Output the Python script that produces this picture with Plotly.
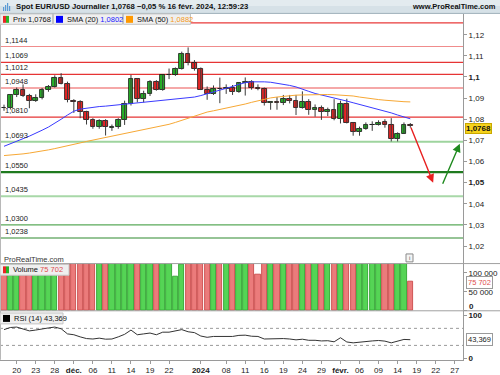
import plotly.graph_objects as go

# ---------------- data ----------------
dates = ["2023-11-16", "2023-11-17", "2023-11-20", "2023-11-21", "2023-11-22", "2023-11-23", "2023-11-24",
         "2023-11-27", "2023-11-28", "2023-11-29", "2023-11-30", "2023-12-01", "2023-12-04", "2023-12-05",
         "2023-12-06", "2023-12-07", "2023-12-08", "2023-12-11", "2023-12-12", "2023-12-13", "2023-12-14",
         "2023-12-15", "2023-12-18", "2023-12-19", "2023-12-20", "2023-12-21", "2023-12-22", "2023-12-26",
         "2023-12-27", "2023-12-28", "2023-12-29", "2024-01-02", "2024-01-03", "2024-01-04", "2024-01-05",
         "2024-01-08", "2024-01-09", "2024-01-10", "2024-01-11", "2024-01-12", "2024-01-15", "2024-01-16",
         "2024-01-17", "2024-01-18", "2024-01-19", "2024-01-22", "2024-01-23", "2024-01-24", "2024-01-25",
         "2024-01-26", "2024-01-29", "2024-01-30", "2024-01-31", "2024-02-01", "2024-02-02", "2024-02-05",
         "2024-02-06", "2024-02-07", "2024-02-08", "2024-02-09", "2024-02-12", "2024-02-13", "2024-02-14",
         "2024-02-15", "2024-02-16"]

opens = [1.0855, 1.0852, 1.0913, 1.0940, 1.0910, 1.0887, 1.0903, 1.0940, 1.0955, 1.0998, 1.0969, 1.0888,
         1.0883, 1.0835, 1.0795, 1.0763, 1.0792, 1.0760, 1.0764, 1.0795, 1.0875, 1.0990, 1.0895, 1.0922,
         1.0978, 1.0940, 1.1008, 1.1012, 1.1040, 1.1109, 1.1067, 1.1036, 1.0940, 1.0922, 1.0945, 1.0942,
         1.0950, 1.0930, 1.0972, 1.0975, 1.0950, 1.0945, 1.0878, 1.0883, 1.0878, 1.0895, 1.0885, 1.0856,
         1.0882, 1.0845, 1.0855, 1.0835, 1.0845, 1.0802, 1.0872, 1.0782, 1.0740, 1.0755, 1.0773, 1.0773,
         1.0787, 1.0772, 1.0707, 1.0729, 1.0772]
highs = [1.0869, 1.0914, 1.0950, 1.0965, 1.0920, 1.0918, 1.0948, 1.0962, 1.1008, 1.1018, 1.0978, 1.0895,
         1.0890, 1.0840, 1.0805, 1.0800, 1.0800, 1.0775, 1.0805, 1.0888, 1.1010, 1.0995, 1.0935, 1.0985,
         1.0985, 1.1010, 1.1040, 1.1045, 1.1120, 1.1140, 1.1080, 1.1045, 1.0955, 1.0960, 1.0997, 1.0965,
         1.0962, 1.0975, 1.0998, 1.0985, 1.0965, 1.0950, 1.0885, 1.0905, 1.0915, 1.0915, 1.0915, 1.0932,
         1.0895, 1.0870, 1.0865, 1.0855, 1.0895, 1.0888, 1.0897, 1.0785, 1.0765, 1.0785, 1.0790, 1.0795,
         1.0800, 1.0805, 1.0738, 1.0785, 1.0782]
lows = [1.0840, 1.0846, 1.0905, 1.0905, 1.0852, 1.0882, 1.0894, 1.0930, 1.0950, 1.0965, 1.0880, 1.0830,
        1.0805, 1.0775, 1.0755, 1.0755, 1.0723, 1.0745, 1.0755, 1.0773, 1.0865, 1.0880, 1.0880, 1.0910,
        1.0935, 1.0935, 1.0990, 1.1005, 1.1035, 1.1055, 1.1030, 1.0938, 1.0892, 1.0915, 1.0876, 1.0920,
        1.0915, 1.0925, 1.0912, 1.0940, 1.0937, 1.0865, 1.0845, 1.0845, 1.0867, 1.0875, 1.0820, 1.0850,
        1.0821, 1.0812, 1.0797, 1.0815, 1.0795, 1.0780, 1.0780, 1.0722, 1.0722, 1.0750, 1.0745, 1.0770,
        1.0760, 1.0695, 1.0695, 1.0730, 1.0760]
closes = [1.0852, 1.0913, 1.0940, 1.0910, 1.0887, 1.0903, 1.0940, 1.0955, 1.0998, 1.0969, 1.0890, 1.0883,
          1.0835, 1.0795, 1.0763, 1.0792, 1.0762, 1.0764, 1.0796, 1.0875, 1.0990, 1.0895, 1.0922, 1.0978,
          1.0940, 1.1008, 1.1011, 1.1040, 1.1109, 1.1067, 1.1036, 1.0940, 1.0922, 1.0945, 1.0942, 1.0950,
          1.0930, 1.0972, 1.0975, 1.0950, 1.0945, 1.0878, 1.0883, 1.0878, 1.0895, 1.0885, 1.0856, 1.0882,
          1.0845, 1.0855, 1.0835, 1.0845, 1.0802, 1.0872, 1.0782, 1.0740, 1.0755, 1.0773, 1.0775, 1.0785,
          1.0772, 1.0707, 1.0729, 1.0772, 1.0768]

sma20 = [1.0672, 1.0683, 1.0696, 1.0708, 1.0720, 1.0733, 1.0748, 1.0763, 1.0780, 1.0800, 1.0820, 1.0838,
         1.0848, 1.0853, 1.0857, 1.0860, 1.0862, 1.0865, 1.0867, 1.0870, 1.0874, 1.0877, 1.0880, 1.0883,
         1.0886, 1.0889, 1.0892, 1.0894, 1.0897, 1.0900, 1.0905, 1.0912, 1.0920, 1.0929, 1.0938, 1.0947,
         1.0955, 1.0965, 1.0973, 1.0977, 1.0978, 1.0977, 1.0975, 1.0971, 1.0966, 1.0960, 1.0953, 1.0944,
         1.0932, 1.0922, 1.0915, 1.0910, 1.0902, 1.0893, 1.0886, 1.0878, 1.0870, 1.0863, 1.0856, 1.0849,
         1.0841, 1.0830, 1.0820, 1.0810, 1.0802]
sma50 = [1.0628, 1.0630, 1.0633, 1.0636, 1.0640, 1.0644, 1.0649, 1.0655, 1.0661, 1.0667, 1.0673, 1.0679,
         1.0688, 1.0695, 1.0701, 1.0708, 1.0714, 1.0721, 1.0727, 1.0733, 1.0739, 1.0745, 1.0751, 1.0757,
         1.0763, 1.0769, 1.0776, 1.0785, 1.0795, 1.0805, 1.0815, 1.0826, 1.0834, 1.0840, 1.0846, 1.0851,
         1.0858, 1.0865, 1.0872, 1.0880, 1.0888, 1.0896, 1.0901, 1.0905, 1.0909, 1.0912, 1.0914, 1.0915,
         1.0916, 1.0917, 1.0917, 1.0917, 1.0916, 1.0915, 1.0913, 1.0910, 1.0905, 1.0900, 1.0896, 1.0893,
         1.0890, 1.0887, 1.0884, 1.0883, 1.0882]

volume = [148000, 152000, 141000, 160000, 156000, 139000, 145000, 150000, 163000, 158000, 171000, 166000,
          159000, 162000, 168000, 157000, 172000, 149000, 161000, 178000, 185000, 174000, 153000, 158000,
          160000, 147000, 131000, 88800, 121000, 142000, 128000, 165000, 170000, 163000, 175000, 150000,
          154000, 158000, 160000, 152000, 94800, 168000, 163000, 159000, 155000, 150000, 161000, 166000,
          158000, 149000, 146000, 152000, 160000, 170000, 176000, 158000, 150000, 148000, 153000, 145000,
          142000, 172000, 160000, 158000, 75702]

rsi = [67, 72, 73, 68, 64, 66, 69, 71, 73, 69, 57, 55, 50, 46, 45, 47, 44.6, 45, 50, 56, 66, 55, 57, 59,
       55, 61, 61, 64, 67, 62, 60, 52, 49, 51, 51.5, 52, 51, 53.5, 54, 51.5, 51, 45, 45.5, 45, 46, 45, 43,
       44.5, 42, 42, 40.5, 41, 38.4, 48, 38, 36, 38, 40, 40.5, 41.5, 40, 36, 40, 44, 43.369]

tick_pos = [2, 5, 8, 11, 14, 17, 20, 23, 26, 31, 35, 38, 41, 44, 47, 50, 53, 56, 59, 62, 65, 68, 71]
tick_text = ["20", "23", "28", "<b>déc.</b>", "06", "11", "14", "19", "22", "<b>2024</b>", "08", "11",
             "16", "19", "24", "29", "<b>févr.</b>", "06", "09", "14", "19", "22", "27"]

price_ticks = [1.02, 1.03, 1.04, 1.05, 1.06, 1.07, 1.08, 1.09, 1.10, 1.11, 1.12]
price_tick_text = ["1,02", "1,03", "1,04", "<b>1,05</b>", "1,06", "1,07", "1,08", "1,09", "<b>1,1</b>",
                   "1,11", "1,12"]

vol_ticks = [0, 50000, 100000]
vol_tick_text = ["", "50 000", "100 000"]   # the "0" is placed as a separate label below

levels = [1.1256, 1.1144, 1.1069, 1.1012, 1.0948, 1.0810, 1.0693, 1.0550, 1.0435, 1.0300, 1.0238]
level_text = ["", "1,1144", "1,1069", "1,1012", "1,0948", "1,0810", "1,0693", "1,0550", "1,0435",
              "1,0300", "1,0238"]
level_color = ["#e83a3a", "#f08c8c", "#e63434", "#e63434", "#f5a8a8", "#e63434", "#9ed49e", "#1f7a1f",
               "#a8d8a8", "#5aaa5a", "#2f8a2f"]
level_width = [1.1, 1.1, 1.3, 1.3, 2.0, 1.3, 2.0, 2.2, 2.0, 1.1, 1.1]

# forecast arrows (tail x, tail y, head x, head y)
arrow_red = [64, 1.0768, 67.6, 1.0500]
arrow_green = [69.0, 1.0488, 71.8, 1.0684]

# ---------------- geometry helpers ----------------
W, H = 500, 375
XR = 463.0


def px(v):
    return v / W


def py(v):
    return 1 - v / H


x = list(range(len(dates)))
up = [c >= o for o, c in zip(opens, closes)]

fig = go.Figure()

# wicks
wx, wy = [], []
for i in x:
    wx += [i, i, None]
    wy += [lows[i], highs[i], None]
fig.add_trace(go.Scatter(x=wx, y=wy, mode="lines", line=dict(color="#3a3a3a", width=1),
                         hoverinfo="skip", showlegend=False, yaxis="y"))

# bodies
body_base = [min(o, c) for o, c in zip(opens, closes)]
body_h = [max(abs(c - o), 0.00025) for o, c in zip(opens, closes)]
fig.add_trace(go.Bar(x=x, y=body_h, base=body_base, width=0.74, yaxis="y",
                     marker=dict(color=["#27b427" if u else "#e82525" for u in up],
                                 line=dict(color="#111111", width=0.8)),
                     showlegend=False))

# moving averages
fig.add_trace(go.Scatter(x=x, y=sma20, mode="lines", line=dict(color="#3a3aff", width=1),
                         showlegend=False, yaxis="y"))
fig.add_trace(go.Scatter(x=x, y=sma50, mode="lines", line=dict(color="#f7a835", width=1),
                         showlegend=False, yaxis="y"))

# volume
fig.add_trace(go.Bar(x=x, y=volume, width=0.82, yaxis="y2",
                     marker=dict(color=["#55d455" if u else "#eb7b7b" for u in up],
                                 line=dict(color=["#229a22" if u else "#c43c3c" for u in up], width=0.8)),
                     showlegend=False))

# RSI
fig.add_trace(go.Scatter(x=x, y=rsi, mode="lines", line=dict(color="#333333", width=1),
                         showlegend=False, yaxis="y3"))

fam = "Liberation Sans, Arial, sans-serif"
axis_font = dict(family=fam, size=8, color="#222222")

fig.update_layout(
    width=W, height=H, margin=dict(l=0, r=0, t=0, b=0),
    paper_bgcolor="white", plot_bgcolor="white", barmode="overlay", bargap=0,
    showlegend=False,
    xaxis=dict(domain=[0, XR / W], range=[-0.63, 72.3], anchor="y3", tickmode="array",
               tickvals=tick_pos, ticktext=tick_text, showgrid=False, zeroline=False,
               showline=True, linecolor="#9a9a9a", ticks="outside", ticklen=3, tickcolor="#9a9a9a",
               tickfont=axis_font),
    yaxis=dict(domain=[py(265.7), py(14)], range=[1.01169, 1.12986], side="right", anchor="x",
               tickmode="array", tickvals=price_ticks, ticktext=price_tick_text, showgrid=False,
               zeroline=False, showline=True, linecolor="#9a9a9a", ticks="outside", ticklen=3,
               tickcolor="#9a9a9a", tickfont=axis_font),
    yaxis2=dict(domain=[py(313.3), py(265.7)], range=[0, 124300], side="right", anchor="x",
                tickmode="array", tickvals=vol_ticks, ticktext=vol_tick_text,
                showgrid=False, zeroline=False, showline=True, linecolor="#9a9a9a", ticks="outside",
                ticklen=3, tickcolor="#9a9a9a", tickfont=axis_font),
    yaxis3=dict(domain=[py(362.7), py(313.3)], range=[-3.8, 111.2], side="right", anchor="x",
                tickmode="array", tickvals=[0, 100], ticktext=["<b>0</b>", "<b>100</b>"],
                showgrid=False, zeroline=False, showline=True, linecolor="#9a9a9a", ticks="outside",
                ticklen=3, tickcolor="#9a9a9a", tickfont=axis_font),
)

shapes = []
# price level lines
for lv, col, wd in zip(levels, level_color, level_width):
    shapes.append(dict(type="line", xref="paper", yref="y", x0=0, x1=XR / W, y0=lv, y1=lv,
                       line=dict(color=col, width=wd), layer="below"))
# RSI 70 / 30
for lv in [70, 30]:
    shapes.append(dict(type="line", xref="paper", yref="y3", x0=0, x1=XR / W, y0=lv, y1=lv,
                       line=dict(color="#9a9a9a", width=1, dash="3px,3px"), layer="below"))
# panel separators
for yy in [265.7, 313.3]:
    shapes.append(dict(type="line", xref="paper", yref="paper", x0=0, x1=1, y0=py(yy), y1=py(yy),
                       line=dict(color="#a0a0a0", width=1), layer="above"))
shapes.append(dict(type="line", xref="paper", yref="paper", x0=0.001, x1=0.001, y0=py(362.7), y1=py(14),
                   line=dict(color="#b8b8b8", width=1), layer="above"))
# header bar
shapes.append(dict(type="rect", xref="paper", yref="paper", x0=0, x1=1, y0=py(13.5), y1=1,
                   fillcolor="#d6e1e7", line=dict(width=0), layer="above"))
shapes.append(dict(type="rect", xref="paper", yref="paper", x0=0, x1=1, y0=py(6), y1=1,
                   fillcolor="#e3ebef", line=dict(width=0), layer="above"))
shapes.append(dict(type="line", xref="paper", yref="paper", x0=0, x1=1, y0=py(13.5), y1=py(13.5),
                   line=dict(color="#9fb0ba", width=1), layer="above"))
# header icon
for i, hh in enumerate([4, 6, 8, 5]):
    shapes.append(dict(type="rect", xref="paper", yref="paper", x0=px(3 + i * 2), x1=px(4.2 + i * 2),
                       y0=py(11), y1=py(11 - hh), fillcolor="#5b9bd5", line=dict(width=0), layer="above"))

# legend boxes (main)
boxes = [(0, 52.5), (53.5, 122.5), (123.5, 190.5)]
for a, b in boxes:
    shapes.append(dict(type="rect", xref="paper", yref="paper", x0=px(a), x1=px(b), y0=py(24.5), y1=py(14),
                       fillcolor="#efefef", line=dict(color="#c4c4c4", width=1), layer="above"))
# prix icon (red/green)
shapes.append(dict(type="rect", xref="paper", yref="paper", x0=px(3), x1=px(6), y0=py(23), y1=py(16),
                   fillcolor="#e82525", line=dict(width=0), layer="above"))
shapes.append(dict(type="rect", xref="paper", yref="paper", x0=px(6), x1=px(9), y0=py(23), y1=py(16),
                   fillcolor="#27b427", line=dict(width=0), layer="above"))
shapes.append(dict(type="rect", xref="paper", yref="paper", x0=px(56), x1=px(63), y0=py(23), y1=py(16),
                   fillcolor="#0000ff", line=dict(width=0), layer="above"))
shapes.append(dict(type="rect", xref="paper", yref="paper", x0=px(126), x1=px(133), y0=py(23), y1=py(16),
                   fillcolor="#ff9900", line=dict(width=0), layer="above"))
# volume legend box
shapes.append(dict(type="rect", xref="paper", yref="paper", x0=px(0), x1=px(69), y0=py(277.5), y1=py(266.5),
                   fillcolor="#efefef", line=dict(color="#c4c4c4", width=1), layer="above"))
shapes.append(dict(type="rect", xref="paper", yref="paper", x0=px(3), x1=px(6), y0=py(275.5), y1=py(268.5),
                   fillcolor="#e82525", line=dict(width=0), layer="above"))
shapes.append(dict(type="rect", xref="paper", yref="paper", x0=px(6), x1=px(9), y0=py(275.5), y1=py(268.5),
                   fillcolor="#27b427", line=dict(width=0), layer="above"))
# RSI legend box
shapes.append(dict(type="rect", xref="paper", yref="paper", x0=px(0), x1=px(63), y0=py(326.5), y1=py(315.5),
                   fillcolor="#efefef", line=dict(color="#c4c4c4", width=1), layer="above"))
shapes.append(dict(type="rect", xref="paper", yref="paper", x0=px(3), x1=px(10), y0=py(324.5), y1=py(317.5),
                   fillcolor="#000000", line=dict(width=0), layer="above"))
# info box
shapes.append(dict(type="rect", xref="paper", yref="paper", x0=px(406), x1=px(413), y0=py(264), y1=py(256),
                   fillcolor="#f4f4f4", line=dict(color="#8a8a8a", width=1), layer="above"))
fig.update_layout(shapes=shapes)

ann = []
# level labels
for lv, t in zip(levels, level_text):
    if t:
        ann.append(dict(xref="paper", yref="y", x=px(2.5), y=lv, text=t, showarrow=False, xanchor="left",
                        yanchor="bottom", yshift=0, font=dict(family=fam, size=7.5, color="#222222")))
# header texts
ann.append(dict(xref="paper", yref="paper", x=px(14), y=py(6.8), text="<b>Spot EUR/USD Journalier 1,0768 −0,05 % 16 févr. 2024, 12:59:23</b>",
                showarrow=False, xanchor="left", yanchor="middle", font=dict(family=fam, size=7.7, color="#111111")))
ann.append(dict(xref="paper", yref="paper", x=px(498), y=py(6.8), text="<b>www.ProRealTime.com</b>",
                showarrow=False, xanchor="right", yanchor="middle", font=dict(family=fam, size=7.5, color="#111111")))
# legend texts
ann.append(dict(xref="paper", yref="paper", x=px(11), y=py(19.3), text="Prix 1,0768", showarrow=False,
                xanchor="left", yanchor="middle", font=dict(family=fam, size=7.5, color="#111111")))
ann.append(dict(xref="paper", yref="paper", x=px(65), y=py(19.3),
                text="SMA (20) <span style='color:#2020ff'>1,0802</span>", showarrow=False,
                xanchor="left", yanchor="middle", font=dict(family=fam, size=7.5, color="#111111")))
ann.append(dict(xref="paper", yref="paper", x=px(135), y=py(19.3),
                text="SMA (50) <span style='color:#f59a1a'>1,0882</span>", showarrow=False,
                xanchor="left", yanchor="middle", font=dict(family=fam, size=7.5, color="#111111")))
ann.append(dict(xref="paper", yref="paper", x=px(2), y=py(261.5), text="ProRealTime.com", showarrow=False,
                xanchor="left", yanchor="middle", font=dict(family=fam, size=7.5, color="#333333")))
ann.append(dict(xref="paper", yref="paper", x=px(11), y=py(272), text="Volume <span style='color:#e05050'>75 702</span>",
                showarrow=False, xanchor="left", yanchor="middle", font=dict(family=fam, size=7.5, color="#111111")))
ann.append(dict(xref="paper", yref="paper", x=px(12), y=py(321), text="RSI (14) 43,369",
                showarrow=False, xanchor="left", yanchor="middle", font=dict(family=fam, size=7.5, color="#111111")))
ann.append(dict(xref="paper", yref="paper", x=px(409.5), y=py(260), text="i",
                showarrow=False, xanchor="center", yanchor="middle", font=dict(family=fam, size=6, color="#555555")))
# volume zero label, lifted a little above the panel edge
ann.append(dict(xref="paper", yref="y2", x=px(468), y=vol_ticks[0], text="<b>0</b>", showarrow=False,
                xanchor="left", yanchor="middle", yshift=4, borderpad=0,
                font=dict(family=fam, size=8, color="#222222")))
# last value tags
ann.append(dict(xref="paper", yref="y", x=px(465), y=closes[-1], text="<b>1,0768</b>", showarrow=False,
                xanchor="left", yanchor="middle", yshift=-3, bgcolor="#f5d21c", bordercolor="#c9a800", borderwidth=1,
                borderpad=0, font=dict(family=fam, size=8, color="#111111")))
ann.append(dict(xref="paper", yref="y2", x=px(466), y=volume[-1], text="75 702", showarrow=False,
                xanchor="left", yanchor="middle", bgcolor="white", bordercolor="#9a9a9a", borderwidth=1,
                borderpad=1, font=dict(family=fam, size=7.5, color="#e05050")))
ann.append(dict(xref="paper", yref="y3", x=px(466), y=rsi[-1], text="43,369", showarrow=False,
                xanchor="left", yanchor="middle", bgcolor="white", bordercolor="#9a9a9a", borderwidth=1,
                borderpad=1, font=dict(family=fam, size=7.5, color="#222222")))
# arrows
for arr, col in [(arrow_red, "#e82020"), (arrow_green, "#1e8a1e")]:
    ann.append(dict(xref="x", yref="y", axref="x", ayref="y", ax=arr[0], ay=arr[1], x=arr[2], y=arr[3],
                    text="", showarrow=True, arrowhead=2, arrowsize=1.2, arrowwidth=1.4, arrowcolor=col))
fig.update_layout(annotations=ann)

fig.write_html("out.html")
